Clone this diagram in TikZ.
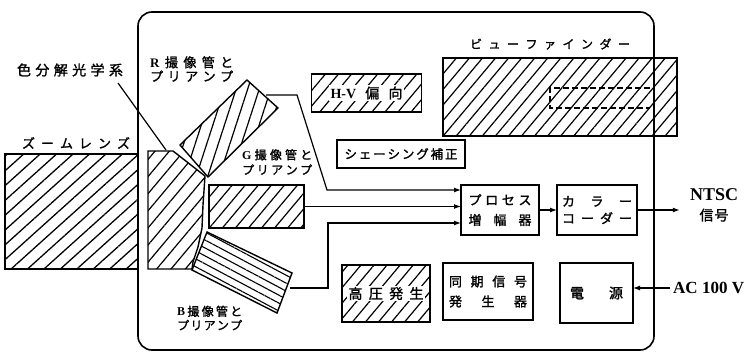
\documentclass[tikz,border=0pt]{standalone}
\usepackage{fontspec}
\setmainfont{Liberation Serif}
\newfontfamily\jp{Noto Sans CJK JP}[FakeBold=1.5]
\usetikzlibrary{patterns.meta,arrows.meta}
\newcommand\spr[2]{\makebox[#1][s]{#2}}
\newcommand\fs[1]{\fontsize{#1}{#1}\selectfont}
\newcommand\lat[1]{{\rmfamily\bfseries #1}}
\begin{document}
\begin{tikzpicture}[x=1pt,y=-1pt,
  box/.style={draw, line width=1.5pt, inner sep=0pt, outer sep=0pt},
  hatch/.style={pattern={Lines[angle=50,distance=10pt,line width=1.2pt]}},
  outl/.style={line width=1.4pt},
  conn/.style={line width=1.2pt},
  arr/.style={conn,-{Latex[length=7pt,width=5pt]}},
  txt/.style={inner sep=0pt, align=center},
  wbg/.style={fill=white, inner sep=1.5pt}]
\useasboundingbox (0,0) rectangle (751,353);

% zoom lens and viewfinder (under the frame)
\node[box, pattern={Lines[angle=42,distance=11pt,line width=1.3pt]},
      minimum width=133pt, minimum height=115pt] (zoom) at (71.5,211.5) {};
\node[box, hatch, minimum width=234pt, minimum height=78pt] (vf) at (560,97) {};
\draw[conn, dash pattern=on 6pt off 3pt] (650,88) -- (550,88) -- (550,108) -- (650,108);

% camera body
\node[draw, line width=1.6pt, rounded corners=14pt, minimum width=516pt,
      minimum height=338pt, inner sep=0pt] (cam) at (396,181) {};

% prism
\draw[outl, pattern={Lines[angle=50,distance=11pt,line width=1.2pt]}]
  (148,151) -- (173,151) -- (205,176) -- (203,205) -- (202,228) -- (198,247)
  -- (193,262) -- (192,269) -- (148,269) -- cycle;
% R tube
\draw[outl, pattern={Lines[angle=72,distance=11pt,line width=1.2pt]}]
  (180,145) -- (247,80) -- (278,108) -- (208,177) -- cycle;
% G tube
\node[box, hatch, minimum width=95pt, minimum height=43pt] (gtube) at (256.5,206.5) {};
% B tube
\draw[outl, pattern={Lines[angle=-28,distance=7pt,line width=1.1pt]}]
  (207,232) -- (292,273) -- (277,313) -- (192,270) -- cycle;

% labels
\node[txt, font=\jp\fs{14}] (seplbl) at (70,70)
  {\spr{106pt}{色\hfil 分\hfil 解\hfil 光\hfil 学\hfil 系}};
\coordinate (ldr) at (118,83);
\coordinate (prtop) at (166,150);
\draw[conn] (ldr) -- (prtop);
\node[txt, font=\jp\fs{13}] (zoomlbl) at (76,143)
  {\spr{108pt}{ズ\hfil ー\hfil ム\hfil レ\hfil ン\hfil ズ}};
\node[txt, anchor=west, align=left, font=\jp\fontsize{13}{14}\selectfont] (rlbl) at (150,69)
  {\spr{83pt}{\lat{R}\hfil 撮\hfil 像\hfil 管\hfil と}\\
   \spr{83pt}{プ\hfil リ\hfil ア\hfil ン\hfil プ}};
\node[txt, anchor=west, align=left, font=\jp\fontsize{12}{15}\selectfont] (glbl) at (242,162)
  {\spr{70pt}{\lat{G}\hfil 撮\hfil 像\hfil 管\hfil と}\\
   \spr{70pt}{プ\hfil リ\hfil ア\hfil ン\hfil プ}};
\node[txt, anchor=west, align=left, font=\jp\fontsize{12}{14}\selectfont] (blbl) at (177,318)
  {\spr{65pt}{\lat{B}\hfil 撮\hfil 像\hfil 管\hfil と}\\
   \spr{65pt}{プ\hfil リ\hfil ア\hfil ン\hfil プ}};
\node[txt, font=\jp\fs{12}] (vflbl) at (550,44)
  {\spr{160pt}{ビ\hfil ュ\hfil ー\hfil フ\hfil ァ\hfil イ\hfil ン\hfil ダ\hfil ー}};

% H-V deflection
\node[box, hatch, minimum width=110pt, minimum height=38pt] (hv) at (366.5,93) {};
\node[wbg, font=\jp\fs{14}] (hvt) at (hv) {\spr{72pt}{\lat{H-V}\hfil 偏\hfil 向}};
% shading
\node[box, minimum width=128pt, minimum height=28pt, font=\jp\fs{12.5}] (shade) at (401,154)
  {\spr{113pt}{シ\hfil ェ\hfil ー\hfil シ\hfil ン\hfil グ\hfil 補\hfil 正}};

% process amp, color coder
\node[box, minimum width=78pt, minimum height=50pt, align=center,
      font=\jp\fontsize{13}{20}\selectfont] (proc) at (500,210)
  {\spr{63pt}{プ\hfil ロ\hfil セ\hfil ス}\\ \spr{63pt}{増\hfil 幅\hfil 器}};
\node[box, minimum width=80pt, minimum height=50pt, align=center,
      font=\jp\fontsize{13}{17}\selectfont] (color) at (597,210)
  {\spr{70pt}{カ\hfil ラ\hfil ー}\\ \spr{70pt}{コ\hfil ー\hfil ダ\hfil ー}};
\node[txt, font=\fontsize{18}{20}\selectfont\bfseries] (ntsc) at (714,205)
  {NTSC\\ {\jp\mdseries\fs{14}\spr{29pt}{信\hfil 号}}};

% bottom row
\node[box, hatch, minimum width=88pt, minimum height=57pt] (hvgen) at (386,293.5) {};
\node[wbg, font=\jp\fs{14}] (hvgent) at (hvgen) {\spr{75pt}{高\hfil 圧\hfil 発\hfil 生}};
\node[box, minimum width=90pt, minimum height=57pt, align=center,
      font=\jp\fontsize{13}{20}\selectfont] (sync) at (488,291.5)
  {\spr{78pt}{同\hfil 期\hfil 信\hfil 号}\\ \spr{78pt}{発\hfil 生\hfil 器}};
\node[box, minimum width=73pt, minimum height=60pt, font=\jp\fs{14}] (power) at (596.5,293)
  {\spr{53pt}{電\hfil 源}};
\node[txt, anchor=west, font=\fontsize{17}{17}\selectfont\bfseries] (ac) at (673,288)
  {AC 100 V};

% connectors
\coordinate (rout) at (266,95);
\coordinate (rk1) at (297,95);
\coordinate (rk2) at (327,190);
\coordinate (pin1) at (461,190);
\coordinate (pin3) at (461,223);
\coordinate (bout) at (290,288);
\coordinate (bk1) at (328,288);
\coordinate (bk2) at (328,223);
\draw[arr] (rout) -- (rk1) -- (rk2) -- (pin1);
\draw[arr] (gtube.east) -- (proc.west |- gtube.east);
\draw[arr] (bout) -- (bk1) -- (bk2) -- (pin3);
\draw[arr] (proc.east) -- (color.west);
\draw[arr] (color.east) -- ([xshift=-10pt]ntsc.west |- color.east);
\draw[arr] ([xshift=-3pt]ac.west) -- (power.east |- ac.west);
\end{tikzpicture}
\end{document}
